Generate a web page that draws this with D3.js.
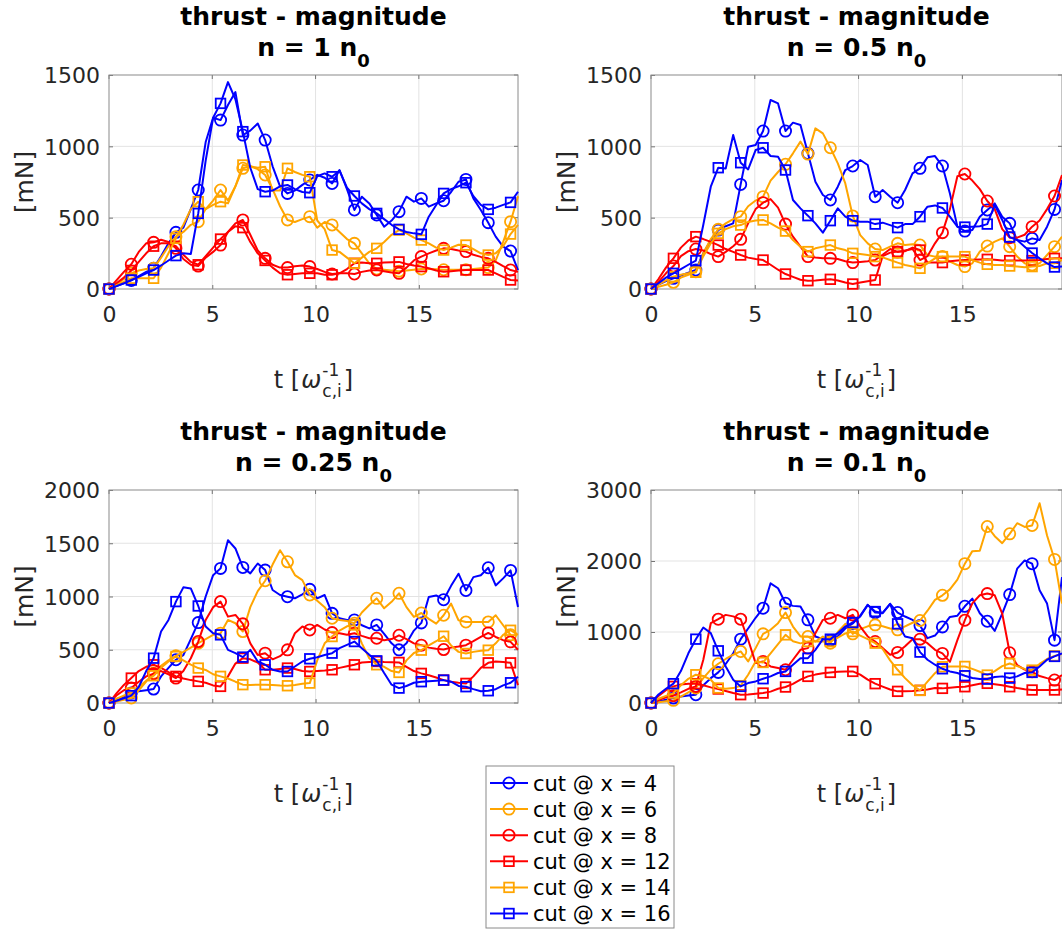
<!DOCTYPE html>
<html><head><meta charset="utf-8">
<script src="https://cdn.jsdelivr.net/npm/d3@7"></script>
<style>
body{margin:0;background:#fff;}
svg{display:block;}
text{font-family:"DejaVu Sans",sans-serif;}
</style>
</head><body>
<svg id="c" width="1062" height="933"></svg>
<script>
// ---------------- DATA ----------------
const time = [0,0.36,0.72,1.08,1.44,1.8,2.16,2.52,2.88,3.24,3.6,3.96,4.32,4.68,5.04,5.4,5.76,6.12,6.48,6.84,7.2,7.56,7.92,8.28,8.64,9,9.36,9.72,10.08,10.44,10.8,11.16,11.52,11.88,12.24,12.6,12.96,13.32,13.68,14.04,14.4,14.76,15.12,15.48,15.84,16.2,16.56,16.92,17.28,17.64,18,18.36,18.72,19.08,19.44,19.8];
const seriesLabels = ["cut @ x = 4","cut @ x = 6","cut @ x = 8","cut @ x = 12","cut @ x = 14","cut @ x = 16"];
const panelTitle = "thrust - magnitude";
const panelDensity = ["1","0.5","0.25","0.1"];
const xTicks = [0,5,10,15];
const yTicksP1 = [0,500,1000,1500];
const yTicksP2 = [0,500,1000,1500];
const yTicksP3 = [0,500,1000,1500,2000];
const yTicksP4 = [0,1000,2000,3000];
const yMax = [1500,1500,2000,3000];

// panel 1 : n = 1 n0
const p1_x4 = [0,20,40,60,90,120,145,230,320,397,430,560,694,1030,1200,1184,1290,1380,1079,1110,1160,1044,860,720,670,690,730,764,800,780,740,834,700,554,647,600,519,437,480,542,647,612,635,577,600,619,680,752,768,635,554,465,367,297,266,133];
const p1_x6 = [0,30,70,110,130,140,145,220,300,367,400,450,472,560,620,694,620,720,846,860,840,799,700,580,484,470,490,507,430,470,449,400,350,320,250,180,140,135,130,125,130,135,140,140,138,135,135,135,135,140,145,150,200,330,472,650];
const p1_x8 = [0,60,120,173,260,320,327,345,330,285,210,170,161,220,260,308,400,460,484,380,270,215,170,150,150,160,165,157,140,120,105,110,110,105,120,130,133,125,115,110,150,200,227,250,270,285,280,270,262,240,225,215,190,160,133,120];
const p1_x12 = [0,40,80,130,190,250,300,320,320,300,240,190,170,230,290,350,400,440,430,330,250,200,150,110,100,105,110,110,110,100,100,110,140,180,185,180,180,185,188,190,175,165,157,145,130,121,125,130,133,133,133,133,110,85,63,60];
const p1_x14 = [0,25,50,75,75,75,75,150,250,355,450,560,612,560,590,612,600,720,869,860,850,857,690,690,846,820,800,787,480,420,273,260,220,180,220,260,285,330,380,413,390,360,343,320,290,273,290,310,308,280,250,238,250,300,385,450];
const p1_x16 = [0,20,40,63,85,110,133,165,200,234,250,245,530,900,1200,1301,1450,1330,1103,850,700,682,690,720,729,700,680,675,790,810,787,830,710,652,600,560,530,490,450,418,400,390,383,507,589,670,700,720,745,650,590,558,570,590,607,682];

// panel 2 : n = 0.5 n0
const p2_x4 = [0,30,55,75,95,115,133,250,340,413,440,460,733,997,1010,1107,1325,1301,1107,1166,1150,951,752,659,624,717,834,862,904,869,647,694,647,605,694,811,846,923,932,862,670,437,406,414,507,554,600,507,460,343,332,355,343,437,558,764];
const p2_x6 = [0,15,30,47,80,100,121,250,350,418,460,490,507,580,620,647,760,820,874,951,1033,946,1126,1091,990,881,740,512,378,320,280,273,297,320,308,313,308,238,227,227,192,168,157,180,262,301,332,355,297,227,180,168,180,238,297,367];
const p2_x8 = [0,50,110,161,230,265,280,270,245,227,260,300,348,460,560,605,630,570,455,367,297,227,220,215,215,210,195,185,190,195,203,240,280,260,270,280,203,230,320,395,560,790,806,760,700,617,560,420,360,360,380,437,480,560,652,799];
const p2_x12 = [0,70,150,215,290,340,367,350,330,308,280,260,238,220,210,203,170,135,105,85,65,58,60,65,68,60,45,35,45,55,63,230,255,262,265,290,273,185,185,185,195,200,203,205,207,208,205,200,199,199,199,199,203,210,215,215];
const p2_x14 = [0,30,60,86,100,110,117,230,320,390,420,440,448,470,480,484,460,430,406,343,297,262,285,297,308,285,273,250,245,238,227,222,203,185,168,157,145,180,215,227,227,227,227,203,185,173,168,168,161,157,152,157,161,180,180,203];
const p2_x16 = [0,40,80,110,140,170,199,450,717,850,845,1079,885,838,974,990,932,927,834,624,565,514,460,395,479,565,507,479,472,472,455,465,448,430,455,455,507,577,586,568,507,437,434,437,440,455,589,484,364,343,297,252,215,180,154,157];

// panel 3 : n = 0.25 n0
const p3_x4 = [0,30,60,94,110,120,131,250,330,406,450,600,755,1000,1200,1264,1529,1451,1273,1217,1310,1248,1061,1014,998,983,1020,1067,983,1014,842,796,780,780,730,700,733,650,560,499,560,680,752,995,1010,970,1100,1214,1057,1182,1200,1270,1104,1170,1245,901];
const p3_x6 = [0,15,30,47,120,200,281,350,400,443,480,520,562,600,640,655,780,749,671,900,1050,1148,1300,1435,1326,1201,1154,1014,960,900,796,780,770,749,850,920,983,889,950,1030,900,808,845,790,745,824,933,777,761,761,761,761,824,730,640,543];
const p3_x8 = [0,70,120,140,200,250,275,300,270,234,300,420,577,780,900,952,811,827,743,560,450,468,410,440,499,655,718,686,733,690,661,655,640,655,630,608,608,590,600,636,600,560,543,520,510,502,520,530,543,580,620,658,620,590,574,500];
const p3_x12 = [0,90,170,234,300,340,359,330,290,250,230,215,203,190,165,156,250,370,421,410,380,312,312,320,328,320,300,296,300,305,312,330,345,359,380,385,390,385,383,381,340,300,278,260,240,215,200,190,184,250,330,377,390,385,377,168];
const p3_x14 = [0,40,70,94,150,210,256,330,390,437,400,360,328,310,270,250,230,200,172,170,172,172,170,165,162,170,180,187,400,560,624,680,720,733,560,420,359,340,300,287,400,470,496,540,580,627,540,480,465,480,490,496,560,640,683,640];
const p3_x16 = [0,20,45,69,150,300,421,671,780,952,1086,1076,911,718,655,640,499,468,431,499,390,359,312,296,296,343,390,415,430,450,468,515,546,577,515,452,396,281,172,140,160,190,200,205,210,215,200,160,153,130,110,115,130,165,190,246];

// panel 4 : n = 0.1 n0
const p4_x4 = [0,20,45,70,90,105,117,250,350,431,550,700,899,1050,1200,1335,1686,1616,1405,1368,1358,1171,937,899,880,940,1050,1120,1230,1382,1274,1270,1396,1274,1218,1171,1091,913,950,1072,1212,1230,1362,1470,1264,1152,1015,1260,1527,1892,2008,1962,1587,1400,885,1774];
const p4_x6 = [0,10,25,37,90,150,211,350,470,553,620,680,726,585,773,974,1030,1124,1274,1077,937,937,866,937,843,1000,1115,974,1040,1080,1101,1080,1050,1030,1080,1130,1162,1300,1452,1517,1600,1737,1962,2139,2145,2486,2350,2251,2383,2532,2480,2500,2813,2360,2022,1400];
const p4_x8 = [0,40,80,103,150,200,234,609,1124,1180,1241,1220,1180,890,562,585,515,492,468,609,749,773,984,1171,1194,1241,1194,1241,1077,937,866,773,679,712,800,899,899,843,749,698,580,885,1166,1404,1517,1541,1517,1260,707,534,470,440,380,350,323,393];
const p4_x12 = [0,100,180,234,260,270,272,250,220,197,170,140,117,120,130,140,160,200,225,270,330,375,400,420,431,440,445,445,400,330,272,230,190,164,165,170,178,190,210,206,215,225,229,250,270,277,265,250,229,210,195,183,183,183,183,190];
const p4_x14 = [0,60,100,140,250,340,398,380,328,211,200,210,244,398,585,571,700,830,960,870,840,866,866,866,866,920,980,1007,950,900,843,760,600,468,350,250,178,300,420,510,515,515,515,480,440,393,450,520,557,520,480,463,550,620,664,690];
const p4_x16 = [0,120,200,272,450,700,899,1063,984,735,515,328,234,281,304,342,375,422,445,539,632,632,749,899,899,984,1077,1134,1218,1382,1288,1265,1396,1115,937,913,717,609,539,482,445,422,384,351,337,337,365,375,351,375,422,431,515,609,656,700];

// ---------------- STYLE / LAYOUT ----------------
const seriesStyle = [
  {color:"#0000ff", marker:"circle"},
  {color:"#ffa500", marker:"circle"},
  {color:"#ff0000", marker:"circle"},
  {color:"#ff0000", marker:"square"},
  {color:"#ffa500", marker:"square"},
  {color:"#0000ff", marker:"square"}
];
const panels = [
  {box:{x0:109,x1:518,y0:75,y1:289}, yTicks:yTicksP1, series:[p1_x4,p1_x6,p1_x8,p1_x12,p1_x14,p1_x16]},
  {box:{x0:651,x1:1062,y0:75,y1:289}, yTicks:yTicksP2, series:[p2_x4,p2_x6,p2_x8,p2_x12,p2_x14,p2_x16]},
  {box:{x0:109,x1:518,y0:490,y1:703}, yTicks:yTicksP3, series:[p3_x4,p3_x6,p3_x8,p3_x12,p3_x14,p3_x16]},
  {box:{x0:651,x1:1062,y0:490,y1:703}, yTicks:yTicksP4, series:[p4_x4,p4_x6,p4_x8,p4_x12,p4_x14,p4_x16]}
];
const TICK_FONT = 22, TITLE_FONT = 25, LABEL_FONT = 24, LEGEND_FONT = 21;
const svg = d3.select("#c");

function drawMarker(g, type, x, y, color){
  if(type==="circle"){
    g.append("circle").attr("cx",x).attr("cy",y).attr("r",5.6)
      .attr("fill","none").attr("stroke",color).attr("stroke-width",1.8);
  } else {
    const s=9.6;
    g.append("rect").attr("x",x-s/2).attr("y",y-s/2).attr("width",s).attr("height",s)
      .attr("fill","none").attr("stroke",color).attr("stroke-width",1.8);
  }
}

panels.forEach((p,pi)=>{
  const b=p.box;
  const x=d3.scaleLinear().domain([0,time[time.length-1]]).range([b.x0,b.x1]);
  const y=d3.scaleLinear().domain([0,yMax[pi]]).range([b.y1,b.y0]);
  const g=svg.append("g");

  // grid
  g.append("g").selectAll("line").data(xTicks.filter(t=>t>0)).join("line")
    .attr("x1",d=>x(d)).attr("x2",d=>x(d)).attr("y1",b.y0).attr("y2",b.y1)
    .attr("stroke","#e3e3e3").attr("stroke-width",1);
  g.append("g").selectAll("line").data(p.yTicks.filter(t=>t>0 && t<yMax[pi])).join("line")
    .attr("x1",b.x0).attr("x2",b.x1).attr("y1",d=>y(d)).attr("y2",d=>y(d))
    .attr("stroke","#e3e3e3").attr("stroke-width",1);

  // axes via d3
  const xAxis=d3.axisBottom(x).tickValues(xTicks).tickSize(-4).tickPadding(12).tickFormat(d3.format("d"));
  const yAxis=d3.axisLeft(y).tickValues(p.yTicks).tickSize(-4).tickPadding(9).tickFormat(d3.format("d"));
  const gx=g.append("g").attr("transform",`translate(0,${b.y1})`).call(xAxis);
  const gy=g.append("g").attr("transform",`translate(${b.x0},0)`).call(yAxis);
  [gx,gy].forEach(a=>{
    a.select(".domain").remove();
    a.selectAll(".tick line").attr("stroke","#555").attr("stroke-width",0.8);
    a.selectAll(".tick text").attr("fill","#262626").style("font-size",TICK_FONT+"px").style("font-family","DejaVu Sans");
  });
  gx.selectAll(".tick text").attr("dy","0.95em");
  gy.selectAll(".tick text").attr("dy","0.36em");
  // top / right ticks
  g.append("g").selectAll("line").data(xTicks).join("line")
    .attr("x1",d=>x(d)).attr("x2",d=>x(d)).attr("y1",b.y0).attr("y2",b.y0+4)
    .attr("stroke","#555").attr("stroke-width",0.8);
  g.append("g").selectAll("line").data(p.yTicks).join("line")
    .attr("x1",b.x1).attr("x2",b.x1-4).attr("y1",d=>y(d)).attr("y2",d=>y(d))
    .attr("stroke","#555").attr("stroke-width",0.8);
  // box
  g.append("rect").attr("x",b.x0).attr("y",b.y0).attr("width",b.x1-b.x0).attr("height",b.y1-b.y0)
    .attr("fill","none").attr("stroke","#8a8a8a").attr("stroke-width",1);

  // series
  const line=d3.line().x((d,i)=>x(time[i])).y(d=>y(d));
  p.series.forEach((vals,si)=>{
    const st=seriesStyle[si];
    const sg=g.append("g");
    sg.append("path").attr("d",line(vals)).attr("fill","none")
      .attr("stroke",st.color).attr("stroke-width",2).attr("stroke-linejoin","round");
    vals.forEach((v,i)=>{ if(i%3===0) drawMarker(sg,st.marker,x(time[i]),y(v),st.color); });
  });

  // titles
  const cx=(b.x0+b.x1)/2;
  g.append("text").attr("x",cx).attr("y",b.y0-50).attr("text-anchor","middle")
    .style("font-size",TITLE_FONT+"px").style("font-weight","bold").attr("fill","#000").text(panelTitle);
  const t2=g.append("text").attr("x",cx).attr("y",b.y0-19).attr("text-anchor","middle")
    .style("font-size",TITLE_FONT+"px").style("font-weight","bold").attr("fill","#000");
  t2.append("tspan").text(`n = ${panelDensity[pi]} n`);
  t2.append("tspan").attr("dy",11).style("font-size","18px").text("0");

  // y label
  g.append("text").attr("transform",`translate(${b.x0-76},${(b.y0+b.y1)/2}) rotate(-90)`)
    .attr("text-anchor","middle").style("font-size","25px").attr("fill","#262626").text("[mN]");

  // x label
  const base=b.y1+99;
  const lg=g.append("g").attr("fill","#262626").style("font-size",LABEL_FONT+"px");
  const a1=lg.append("text").attr("x",0).attr("y",base).text("t [");
  const w1=a1.node().getComputedTextLength();
  const a2=lg.append("text").attr("x",w1+1).attr("y",base).style("font-style","italic").text("ω");
  const w2=a2.node().getComputedTextLength();
  const sup=lg.append("text").attr("x",w1+w2+2).attr("y",base-12).style("font-size","17px").text("-1");
  const sub=lg.append("text").attr("x",w1+w2+2).attr("y",base+9).style("font-size","17px").text("c,i");
  const w3=Math.max(sup.node().getComputedTextLength(),sub.node().getComputedTextLength());
  const a3=lg.append("text").attr("x",w1+w2+w3+4).attr("y",base).text("]");
  const tot=w1+w2+w3+4+a3.node().getComputedTextLength();
  lg.attr("transform",`translate(${cx-tot/2},0)`);
});

// legend
const L={x:486,y:766,w:188,h:162};
const lgd=svg.append("g");
lgd.append("rect").attr("x",L.x).attr("y",L.y).attr("width",L.w).attr("height",L.h)
  .attr("fill","#fff").attr("stroke","#8a8a8a").attr("stroke-width",1);
seriesLabels.forEach((lab,i)=>{
  const yy=L.y+17+i*26.1;
  const st=seriesStyle[i];
  lgd.append("line").attr("x1",L.x+4).attr("x2",L.x+42).attr("y1",yy).attr("y2",yy)
    .attr("stroke",st.color).attr("stroke-width",2);
  drawMarker(lgd,st.marker,L.x+23,yy,st.color);
  lgd.append("text").attr("x",L.x+47).attr("y",yy).attr("dy","0.36em")
    .style("font-size",LEGEND_FONT+"px").attr("fill","#000").text(lab);
});
</script>
</body></html>
